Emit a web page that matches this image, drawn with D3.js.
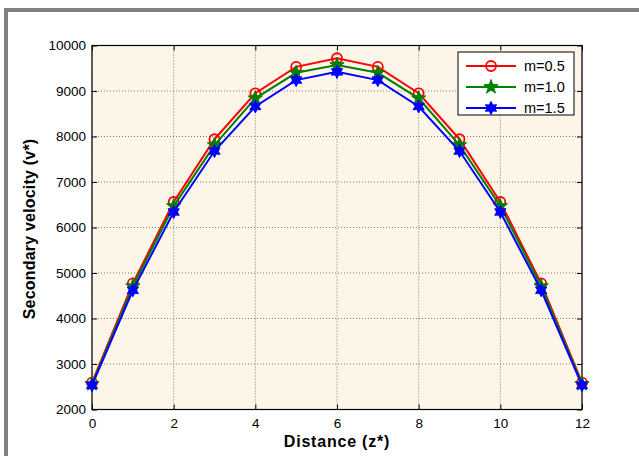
<!DOCTYPE html>
<html>
<head>
<meta charset="utf-8">
<script src="https://d3js.org/d3.v7.min.js"></script>
<style>
  body { margin: 0; background: #fff; }
  svg { display: block; font-family: "Liberation Sans", Arial, sans-serif; }
</style>
</head>
<body>
<div id="chart"></div>
<script>
// data
let zValues = [0, 1, 2, 3, 4, 5, 6, 7, 8, 9, 10, 11, 12];
let m05 = [2590, 4770, 6560, 7940, 8950, 9530, 9720, 9530, 8950, 7940, 6560, 4770, 2590];
let m10 = [2560, 4710, 6470, 7810, 8840, 9400, 9570, 9400, 8840, 7810, 6470, 4710, 2560];
let m15 = [2530, 4620, 6340, 7680, 8660, 9240, 9420, 9240, 8660, 7680, 6340, 4620, 2530];
let seriesNames = ["m=0.5", "m=1.0", "m=1.5"];
let xTicks = [0, 2, 4, 6, 8, 10, 12];
let yTicks = [2000, 3000, 4000, 5000, 6000, 7000, 8000, 9000, 10000];

let W = 639, H = 456;
let margin = {top: 45.5, right: 57, bottom: 46.5, left: 92};
let w = W - margin.left - margin.right;
let h = H - margin.top - margin.bottom;

let root = d3.select("#chart").append("svg")
    .attr("width", W).attr("height", H);

// grey outer frame (top and left)
root.append("rect").attr("x", 4).attr("y", 8).attr("width", W).attr("height", 4).attr("fill", "#808080");
root.append("rect").attr("x", 4).attr("y", 8).attr("width", 4).attr("height", H).attr("fill", "#808080");

let svg = root.append("g")
    .attr("transform", "translate(" + margin.left + "," + margin.top + ")");

let x = d3.scaleLinear().domain([0, 12]).range([0, w]);
let y = d3.scaleLinear().domain([2000, 10000]).range([h, 0]);

svg.append("rect").attr("width", w).attr("height", h).attr("fill", "#fdf5e8");

// grid
svg.append("g").selectAll("line").data(xTicks).enter().append("line")
    .attr("x1", d => x(d)).attr("x2", d => x(d)).attr("y1", 0).attr("y2", h)
    .attr("stroke", "#444").attr("stroke-width", 0.7).attr("stroke-dasharray", "1,2");
svg.append("g").selectAll("line").data(yTicks).enter().append("line")
    .attr("y1", d => y(d)).attr("y2", d => y(d)).attr("x1", 0).attr("x2", w)
    .attr("stroke", "#444").attr("stroke-width", 0.7).attr("stroke-dasharray", "1,2");

// axes, ticks inward on all sides
function styleAxis(g) {
    g.select(".domain").remove();
    g.selectAll("text").attr("font-size", "13.5px").attr("fill", "#000")
        .attr("font-family", "Liberation Sans, Arial, sans-serif");
    g.selectAll("line").attr("stroke", "#000");
}
svg.append("g").attr("transform", "translate(0," + h + ")")
    .call(d3.axisBottom(x).tickValues(xTicks).tickFormat(d3.format("d"))
        .tickSizeInner(-5).tickSizeOuter(0).tickPadding(9))
    .call(styleAxis);
svg.append("g")
    .call(d3.axisLeft(y).tickValues(yTicks).tickFormat(d3.format("d"))
        .tickSizeInner(-5).tickSizeOuter(0).tickPadding(6))
    .call(styleAxis);
svg.append("g")
    .call(d3.axisTop(x).tickValues(xTicks).tickSizeInner(-5).tickSizeOuter(0).tickFormat(""))
    .call(styleAxis);
svg.append("g").attr("transform", "translate(" + w + ",0)")
    .call(d3.axisRight(y).tickValues(yTicks).tickSizeInner(-5).tickSizeOuter(0).tickFormat(""))
    .call(styleAxis);

svg.append("rect").attr("width", w).attr("height", h)
    .attr("fill", "none").attr("stroke", "#000").attr("stroke-width", 1.2);

// series
let series = [
    {name: seriesNames[0], values: m05, color: "#ff0000", marker: "circle"},
    {name: seriesNames[1], values: m10, color: "#008000", marker: "star5"},
    {name: seriesNames[2], values: m15, color: "#0000ff", marker: "star6"}
];

function starPath(n, R, r) {
    let pts = [];
    for (let i = 0; i < 2 * n; i++) {
        let a = -Math.PI / 2 + i * Math.PI / n;
        let rad = i % 2 === 0 ? R : r;
        pts.push([rad * Math.cos(a), rad * Math.sin(a)]);
    }
    return "M" + pts.map(p => p.join(",")).join("L") + "Z";
}

function drawMarker(g, s) {
    if (s.marker === "circle") {
        g.append("circle").attr("r", 5).attr("fill", "none")
            .attr("stroke", s.color).attr("stroke-width", 1.8);
    } else if (s.marker === "star5") {
        g.append("path").attr("d", starPath(5, 7.5, 3)).attr("fill", s.color)
            .attr("stroke", s.color).attr("stroke-width", 1);
    } else {
        g.append("path").attr("d", starPath(6, 6.5, 3.5)).attr("fill", s.color)
            .attr("stroke", s.color).attr("stroke-width", 1);
    }
}

let line = d3.line().x((d, i) => x(zValues[i])).y(d => y(d));

series.forEach(function(s) {
    svg.append("path").datum(s.values).attr("d", line)
        .attr("fill", "none").attr("stroke", s.color).attr("stroke-width", 2);
    s.values.forEach(function(v, i) {
        let g = svg.append("g").attr("transform", "translate(" + x(zValues[i]) + "," + y(v) + ")");
        drawMarker(g, s);
    });
});

// legend
let lg = svg.append("g").attr("transform", "translate(" + (458 - margin.left) + "," + (52 - margin.top) + ")");
lg.append("rect").attr("width", 116).attr("height", 63)
    .attr("fill", "#fff").attr("stroke", "#000").attr("stroke-width", 1);
series.forEach(function(s, i) {
    let ly = 14 + i * 21;
    lg.append("line").attr("x1", 8).attr("x2", 58).attr("y1", ly).attr("y2", ly)
        .attr("stroke", s.color).attr("stroke-width", 2);
    let mg = lg.append("g").attr("transform", "translate(33," + ly + ")");
    drawMarker(mg, s);
    lg.append("text").attr("x", 66).attr("y", ly + 5).attr("font-size", "14.5px").text(s.name);
});

// axis titles
svg.append("text")
    .attr("x", w / 2).attr("y", h + 37)
    .attr("text-anchor", "middle").attr("font-size", "16px").attr("font-weight", "bold")
    .attr("letter-spacing", "0.8px")
    .text("Distance (z*)");
svg.append("text")
    .attr("transform", "rotate(-90)")
    .attr("x", -(229 - margin.top)).attr("y", -57)
    .attr("text-anchor", "middle").attr("font-size", "16px").attr("font-weight", "bold")
    .attr("letter-spacing", "0.2px")
    .text("Secondary velocity (v*)");
</script>
</body>
</html>
